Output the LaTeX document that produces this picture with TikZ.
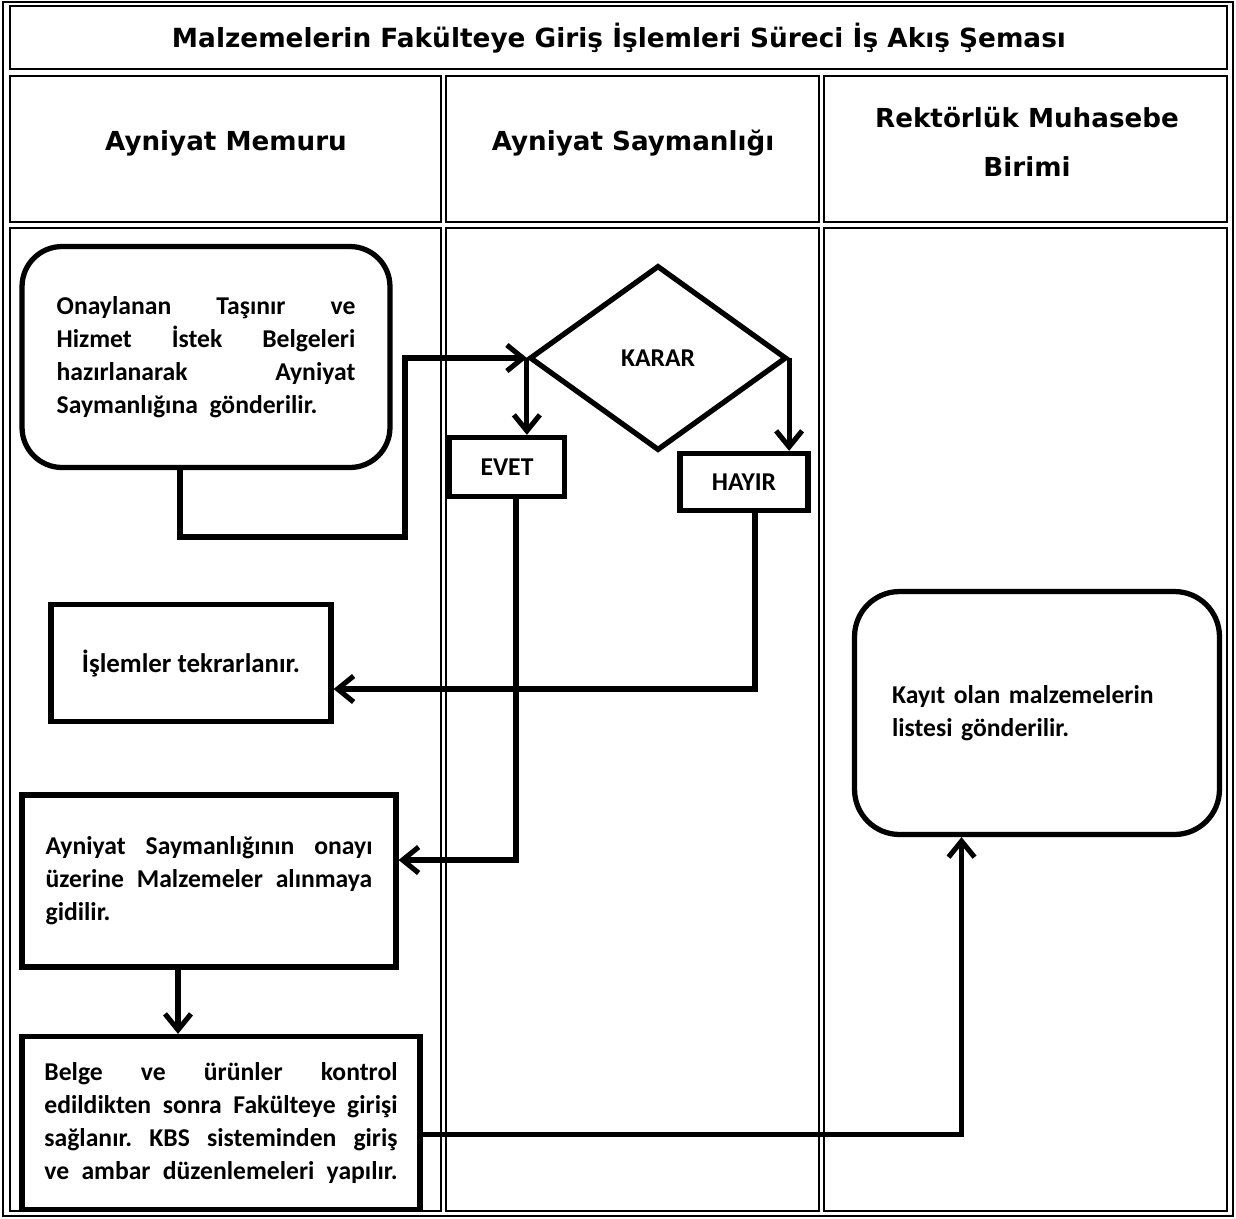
\documentclass[tikz,border=0pt]{standalone}
\usepackage{fontspec}
\setmainfont{Carlito}
\newfontfamily\bodyfont{Carlito Bold}
\newfontfamily\headfont{DejaVu Sans Bold}
\usetikzlibrary{shapes.geometric}
\usetikzlibrary{arrows.meta}

\newcommand{\jsp}{\hspace{0.25em plus 1fill}}

\tikzset{
  cell/.style={draw,line width=1.6pt},
  bodytext/.style={font=\bodyfont\fontsize{14.6}{18.8}\selectfont},
  procbox/.style={draw,line width=3pt,bodytext,inner sep=0pt},
  roundbox/.style={procbox,rounded corners=0.8cm},
  decision/.style={draw,diamond,line width=3pt,bodytext,inner sep=0pt},
  flow/.style={line width=2.9pt,-{Straight Barb[length=0.32cm,width=0.52cm,line width=2.9pt]}},
  headtext/.style={font=\headfont\fontsize{14.9}{27.8}\selectfont,align=center}
}

\begin{document}
\begin{tikzpicture}[x=0.02cm,y=-0.02cm]
  \useasboundingbox (0,0) rectangle (1236,1218);
  %table
  \draw[cell] (3,2) rectangle (1233,1216);
  \draw[cell] (10,6) rectangle (1227,69);
  \foreach \xa/\xb in {10/441,446/819,824/1227}{
    \draw[cell] (\xa,76) rectangle (\xb,222);
    \draw[cell] (\xa,228) rectangle (\xb,1211);
  }
  \node[font=\headfont\fontsize{15}{18}\selectfont] (title) at (619,38) {Malzemelerin Fakülteye Giriş İşlemleri Süreci İş Akış Şeması};
  \node[headtext] (memur) at (226,143) {Ayniyat Memuru};
  \node[headtext] (sayman) at (633,143) {Ayniyat Saymanlığı};
  \node[headtext] (rektor) at (1027,142) {Rektörlük Muhasebe\\Birimi};

  %boxes
  \node[roundbox,minimum width=7.36cm,minimum height=4.42cm,text width=170pt,align=left] (onay) at (206,357) {Onaylanan\jsp Taşınır\jsp ve\\Hizmet\jsp İstek\jsp Belgeleri\\hazırlanarak\jsp Ayniyat\\Saymanlığına\hspace{0.45em}gönderilir.};
  \node[decision,minimum width=5.14cm,minimum height=3.7cm] (karar) at (658,358) {KARAR};
  \node[procbox,minimum width=2.3cm,minimum height=1.18cm] (evet) at (507,467) {EVET};
  \node[procbox,minimum width=2.56cm,minimum height=1.14cm] (hayir) at (744,482) {HAYIR};
  \node[procbox,minimum width=5.6cm,minimum height=2.34cm,font=\bodyfont\fontsize{15.3}{18.8}\selectfont] (islem) at (191,663) {İşlemler tekrarlanır.};
  \node[procbox,minimum width=7.48cm,minimum height=3.44cm,text width=186pt,align=left] (malz) at (209,881) {Ayniyat\jsp Saymanlığının\jsp onayı\\üzerine\jsp Malzemeler\jsp alınmaya\\gidilir.};
  \node[procbox,minimum width=7.96cm,minimum height=3.46cm,text width=201pt,align=left] (kbs) at (221,1123) {Belge\jsp ve\jsp ürünler\jsp kontrol\\edildikten\jsp sonra\jsp Fakülteye\jsp girişi\\sağlanır.\jsp KBS\jsp sisteminden\jsp giriş\\ve\jsp ambar\jsp düzenlemeleri\jsp yapılır.};
  \node[roundbox,rounded corners=0.9cm,minimum width=7.3cm,minimum height=4.86cm,text width=165pt,align=left] (kayit) at (1037,713) {Kayıt olan malzemelerin\\listesi gönderilir.};

  %connectors
  \coordinate (k1) at (405,537);
  \draw[flow] ([xshift=-0.52cm]onay.south) |- (k1) |- (karar.west);
  \draw[flow] (karar.west) -- (karar.west |- evet.north);
  \draw[flow] (karar.east) -- (karar.east |- hayir.north);
  \draw[flow] ([xshift=0.22cm]hayir.south) |- ([yshift=-0.52cm]islem.east);
  \draw[flow] ([xshift=0.18cm]evet.south) |- ([yshift=0.42cm]malz.east);
  \draw[flow] ([xshift=-0.62cm]malz.south) -- ([xshift=-0.62cm]malz.south |- kbs.north);
  \draw[flow] ([yshift=-0.23cm]kbs.east) -| ([xshift=-1.51cm]kayit.south);
\end{tikzpicture}
\end{document}
